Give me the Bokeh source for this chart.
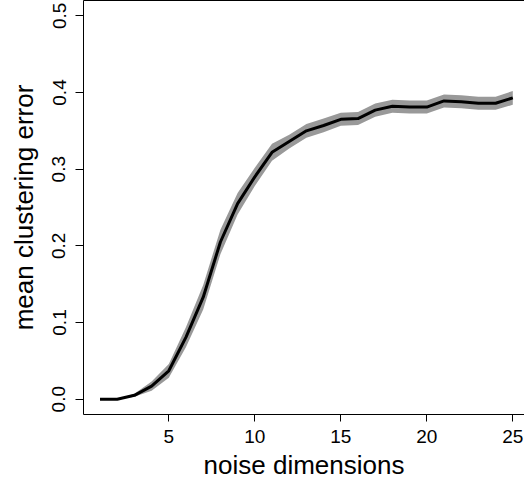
from bokeh.plotting import figure
from bokeh.models import Range1d, FixedTicker, NumeralTickFormatter, LinearAxis, ColumnDataSource
from bokeh.embed import file_html
from bokeh.resources import INLINE

noise_dims = list(range(1, 26))
mean_error = [0.000, 0.000, 0.005, 0.017, 0.037, 0.081, 0.133, 0.205, 0.255, 0.290,
              0.322, 0.336, 0.350, 0.357, 0.365, 0.366, 0.377, 0.382, 0.381, 0.381,
              0.389, 0.388, 0.386, 0.386, 0.393]
std_err = [0.000, 0.000, 0.002, 0.006, 0.009, 0.013, 0.016, 0.016, 0.014, 0.012,
           0.011, 0.009, 0.009, 0.009, 0.0085, 0.0085, 0.0085, 0.0085, 0.0085, 0.0085,
           0.0085, 0.0085, 0.0085, 0.0085, 0.009]
x_ticks = [5, 10, 15, 20, 25]
y_ticks = [0.0, 0.1, 0.2, 0.3, 0.4, 0.5]

src = ColumnDataSource(dict(
    x=noise_dims,
    y=mean_error,
    lo=[m - s for m, s in zip(mean_error, std_err)],
    hi=[m + s for m, s in zip(mean_error, std_err)],
))

FONT = "Liberation Sans"

p = figure(width=524, height=482, output_backend="svg", toolbar_location=None,
           x_range=Range1d(0.04, 25.68), y_range=Range1d(-0.02, 0.52),
           min_border_left=83, min_border_right=0, min_border_top=0, min_border_bottom=68)
p.grid.visible = False
p.outline_line_color = None
p.background_fill_color = "white"
p.border_fill_color = "white"

p.varea(x="x", y1="lo", y2="hi", source=src, fill_color="#999999")
p.line(x="x", y="y", source=src, line_color="black", line_width=3)

for ax in (p.xaxis[0], p.yaxis[0]):
    ax.axis_line_color = "black"
    ax.axis_line_width = 1
    ax.major_tick_line_color = "black"
    ax.major_tick_in = 0
    ax.minor_tick_line_color = None
    ax.major_label_text_font = FONT
    ax.major_label_text_font_size = "19px"
    ax.major_label_text_color = "black"
    ax.axis_label_text_font = FONT
    ax.axis_label_text_font_size = "26px"
    ax.axis_label_text_font_style = "normal"
    ax.axis_label_text_color = "black"

p.xaxis[0].ticker = FixedTicker(ticks=x_ticks)
p.xaxis[0].major_tick_out = 7
p.xaxis[0].major_label_standoff = 8
p.xaxis[0].axis_label = "noise dimensions"
p.xaxis[0].axis_label_standoff = 4

p.yaxis[0].ticker = FixedTicker(ticks=y_ticks)
p.yaxis[0].formatter = NumeralTickFormatter(format="0.0")
p.yaxis[0].major_tick_out = 8
p.yaxis[0].major_label_standoff = 10
p.yaxis[0].major_label_orientation = "parallel"
p.yaxis[0].axis_label = "mean clustering error"
p.yaxis[0].axis_label_standoff = 11

top = LinearAxis(ticker=FixedTicker(ticks=[]), major_tick_out=0, major_tick_in=0,
                 major_label_standoff=0, major_label_text_font_size="0px",
                 axis_line_color="black", axis_line_width=1,
                 minor_tick_line_color=None, major_tick_line_color=None)
p.add_layout(top, "above")

open("out.html", "w").write(file_html(p, INLINE))
